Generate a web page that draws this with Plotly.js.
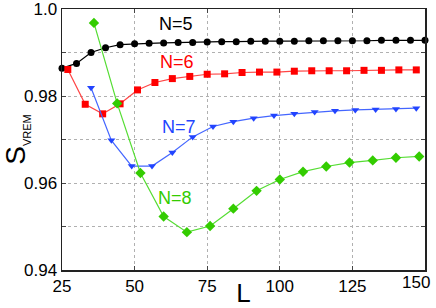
<!DOCTYPE html>
<html>
<head>
<meta charset="utf-8">
<script src="https://cdn.plot.ly/plotly-3.0.1.min.js"></script>
<style>html,body{margin:0;padding:0;background:#fff;}#chart{width:436px;height:308px;}</style>
</head>
<body>
<div id="chart"></div>
<script>
// N=5
const xN5 = [25,30,35,40,45,50,55,60,65,70,75,80,85,90,95,100,105,110,115,120,125,130,135,140,145,150];
const yN5 = [0.9864,0.9875,0.9900,0.9911,0.9918,0.9920,0.9921,0.9922,0.9923,0.9923,0.9924,0.9925,0.9925,0.9926,0.9926,0.9926,0.9926,0.9927,0.9927,0.9927,0.9927,0.9927,0.9928,0.9928,0.9928,0.9928];
// N=6
const xN6 = [27,33,39,45,51,57,63,69,75,81,87,93,99,105,111,117,123,129,135,141,147];
const yN6 = [0.9861,0.9781,0.9759,0.9782,0.9814,0.9831,0.9840,0.9845,0.9850,0.9851,0.9854,0.9855,0.9855,0.9857,0.9858,0.9858,0.9858,0.9859,0.9859,0.9860,0.9860];
// N=7
const xN7 = [35,42,49,56,63,70,77,84,91,98,105,112,119,126,133,140,147];
const yN7 = [0.9819,0.9698,0.9639,0.9639,0.9670,0.9706,0.9730,0.9741,0.9749,0.9755,0.9759,0.9763,0.9766,0.9768,0.9769,0.9770,0.9772];
// N=8
const xN8 = [36,44,52,60,68,76,84,92,100,108,116,124,132,140,148];
const yN8 = [0.9968,0.9783,0.9623,0.9523,0.9487,0.9501,0.9541,0.9582,0.9608,0.9626,0.9638,0.9647,0.9652,0.9658,0.9661];

const seriesNames = ["N=5","N=6","N=7","N=8"];
const labelX = [64.3,64.6,65.3,63.9];
const labelY = [0.99655,0.98782,0.97287,0.95655];
const xTicks = [25,50,75,100,125,150];
const xTickText = ["25","50","75","100","125",""];
const lastXTickText = "150";
const yTicks = [0.94,0.95,0.96,0.97,0.98,0.99,1.0];
const yTickText = ["0.94","","0.96","","0.98","","1.0"];

const lineCols = ["#000000","#ff4444","#4466ff","#55dd33"];
const markCols = ["#000000","#ff0000","#2244ff","#33cc00"];
const symbols = ["circle","square","triangle-down","diamond"];
const sizes = [7,7,7,8];
const xs = [xN5,xN6,xN7,xN8];
const ys = [yN5,yN6,yN7,yN8];

const data = xs.map((x,i)=>({
  x:x, y:ys[i], type:"scatter", mode:"lines+markers", name:seriesNames[i],
  line:{color:lineCols[i], width:1.2},
  marker:{color:markCols[i], symbol:symbols[i], size:sizes[i]},
  showlegend:false, cliponaxis:false
}));

const annotations = seriesNames.map((t,i)=>({
  x:labelX[i], y:labelY[i], xref:"x", yref:"y", text:t, showarrow:false,
  font:{family:"Liberation Sans, Arial, sans-serif", size:18, color:markCols[i]}
}));
// last x tick label, shifted left so it stays inside the figure (as in the reference)
annotations.push({
  x:xTicks[xTicks.length-1], y:0, xref:"x", yref:"paper", text:lastXTickText,
  showarrow:false, xanchor:"right", yanchor:"top", xshift:7, yshift:-1,
  font:{family:"Liberation Sans, Arial, sans-serif", size:17, color:"#000"}
});

const layout = {
  width:436, height:308,
  margin:{l:62, r:11, t:9, b:38},
  paper_bgcolor:"#fff", plot_bgcolor:"#fff",
  font:{family:"Liberation Sans, Arial, sans-serif", color:"#000"},
  xaxis:{
    range:[24.9999,150.0001], tickmode:"array", tickvals:xTicks, ticktext:xTickText,
    showgrid:true, gridcolor:"#b0b0b0", griddash:"dot", gridwidth:1,
    showline:true, linecolor:"#222", linewidth:1.5, mirror:"ticks",
    ticks:"inside", ticklen:4, tickcolor:"#444",
    tickfont:{size:17}, zeroline:false,
    title:{text:"L", font:{size:26}, standoff:2}
  },
  yaxis:{
    range:[0.9399999,1.0000001], tickmode:"array", tickvals:yTicks, ticktext:yTickText,
    showgrid:true, gridcolor:"#b0b0b0", griddash:"dot", gridwidth:1,
    showline:true, linecolor:"#222", linewidth:1.5, mirror:"ticks",
    ticks:"inside", ticklen:4, tickcolor:"#444",
    tickfont:{size:17}, zeroline:false, ticklabeloverflow:"allow",
    title:{text:"S<sub><span style='font-size:11px'>VREM</span></sub>", font:{size:28}, standoff:4}
  },
  annotations:annotations
};

Plotly.newPlot("chart", data, layout, {displayModeBar:false, staticPlot:true});
</script>
</body>
</html>
